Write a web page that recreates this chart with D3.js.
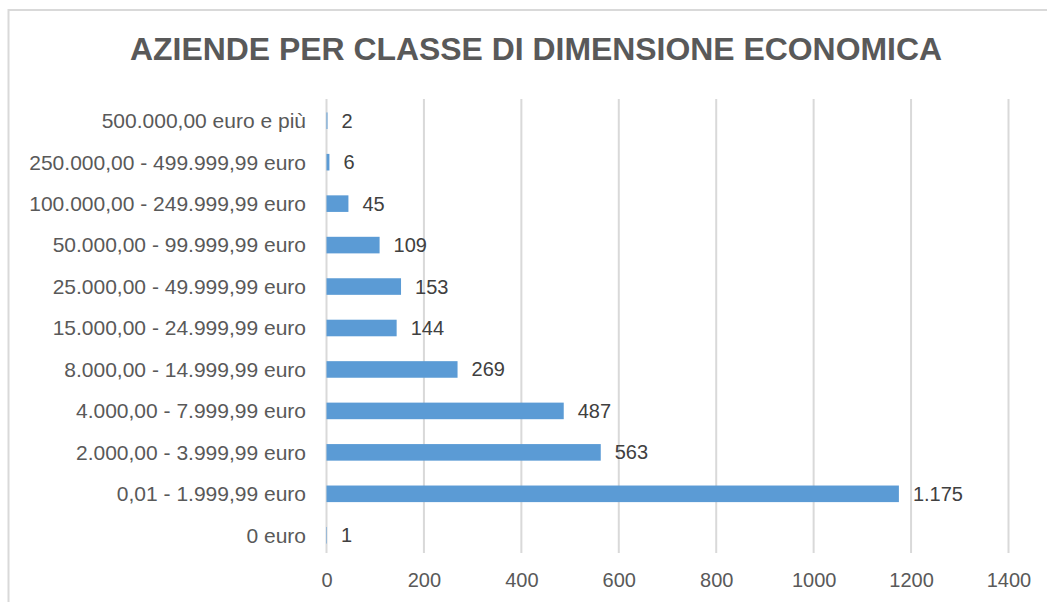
<!DOCTYPE html>
<html><head><meta charset="utf-8">
<script src="https://cdn.jsdelivr.net/npm/d3@7"></script>
<style>body{margin:0;background:#fff;}svg{display:block;}</style>
</head><body>
<svg id="chart" width="1047" height="602"></svg>
<script>
const categories = ["500.000,00 euro e più","250.000,00 - 499.999,99 euro","100.000,00 - 249.999,99 euro","50.000,00 - 99.999,99 euro","25.000,00 - 49.999,99 euro","15.000,00 - 24.999,99 euro","8.000,00 - 14.999,99 euro","4.000,00 - 7.999,99 euro","2.000,00 - 3.999,99 euro","0,01 - 1.999,99 euro","0 euro"];
const values = [2,6,45,109,153,144,269,487,563,1175,1];
const valueLabels = ["2","6","45","109","153","144","269","487","563","1.175","1"];
const tickValues = [0,200,400,600,800,1000,1200,1400];
const title = "AZIENDE PER CLASSE DI DIMENSIONE ECONOMICA";

const svg = d3.select("#chart");
const font = "Liberation Sans, Arial, sans-serif";

svg.append("rect").attr("x",8.5).attr("y",10).attr("width",1100).attr("height",700)
  .attr("fill","#fff").attr("stroke","#d9d9d9").attr("stroke-width",2);

svg.append("text").attr("x",130).attr("y",60).attr("font-family",font).attr("font-weight","bold")
  .attr("font-size",31).attr("fill","#595959").attr("textLength",812).attr("lengthAdjust","spacingAndGlyphs")
  .text(title);

const x = d3.scaleLinear().domain([0,1400]).range([326.5,1008.5]);
const y = d3.scaleBand().domain(categories).range([100,556]).paddingInner(0.6).paddingOuter(0.3);

// gridlines
svg.append("g").selectAll("line").data(tickValues).join("line")
  .attr("x1",d=>x(d)).attr("x2",d=>x(d)).attr("y1",99).attr("y2",553)
  .attr("stroke","#d9d9d9").attr("stroke-width",2);

// x axis labels
const xAxis = d3.axisBottom(x).tickValues(tickValues).tickSize(0).tickPadding(0).tickFormat(d3.format("d"));
const gx = svg.append("g").attr("transform","translate(0,573)").call(xAxis);
gx.select(".domain").remove();
gx.selectAll("text").attr("font-family",font).attr("font-size",20).attr("fill","#595959").attr("dy","0.71em");

// y axis labels
const yAxis = d3.axisLeft(y).tickSize(0).tickPadding(0);
const gy = svg.append("g").attr("transform","translate(306,0)").call(yAxis);
gy.select(".domain").remove();
gy.selectAll("text").attr("font-family",font).attr("font-size",21).attr("fill","#595959").attr("dy","0.35em");

// bars
const bw = y.bandwidth();
svg.append("g").selectAll("rect").data(values).join("rect")
  .attr("x",x(0)).attr("y",(d,i)=>y(categories[i]))
  .attr("width",d=>x(d)-x(0)).attr("height",bw).attr("fill","#5b9bd5");

// value labels
svg.append("g").selectAll("text").data(values).join("text")
  .attr("x",d=>x(d)+14).attr("y",(d,i)=>y(categories[i])+bw/2).attr("dy","0.35em")
  .attr("font-family",font).attr("font-size",20).attr("fill","#404040")
  .text((d,i)=>valueLabels[i]);
</script>
</body></html>
